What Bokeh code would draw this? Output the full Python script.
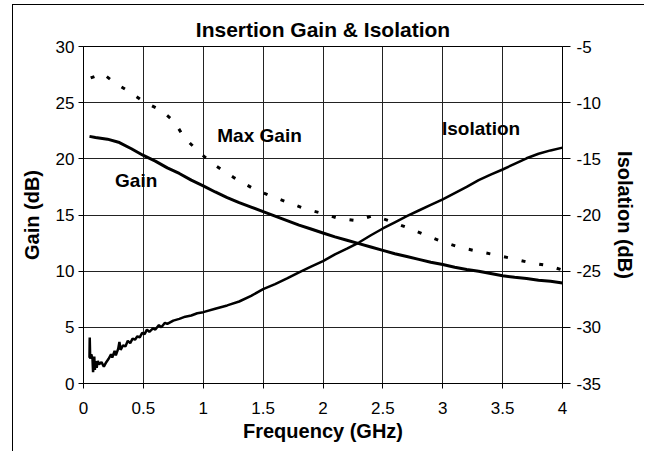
from bokeh.plotting import figure
from bokeh.models import Range1d, LinearAxis, Label, FixedTicker, PrintfTickFormatter
from bokeh.embed import file_html
from bokeh.resources import INLINE

# ---- data ----
gain_f = [0.05, 0.1, 0.2, 0.3, 0.4, 0.5, 0.6, 0.7, 0.8, 0.9, 1.0, 1.1, 1.2, 1.3, 1.4,
          1.5, 1.6, 1.7, 1.8, 1.9, 2.0, 2.1, 2.2, 2.3, 2.4, 2.5, 2.6, 2.7, 2.8, 2.9,
          3.0, 3.1, 3.2, 3.3, 3.4, 3.5, 3.6, 3.7, 3.8, 3.9, 4.0]
gain_db = [22.0, 21.9, 21.75, 21.45, 20.9, 20.3, 19.8, 19.2, 18.7, 18.1, 17.6, 17.05, 16.55,
           16.1, 15.7, 15.3, 14.9, 14.5, 14.1, 13.75, 13.4, 13.05, 12.75, 12.45, 12.15,
           11.85, 11.55, 11.3, 11.05, 10.8, 10.6, 10.35, 10.15, 10.0, 9.8, 9.6, 9.45,
           9.35, 9.2, 9.1, 8.95]

maxgain_f = [0.06, 0.16, 0.27, 0.38, 0.5, 0.65, 0.76, 0.84, 0.98, 1.11, 1.26, 1.41, 1.55,
             1.70, 1.85, 1.99, 2.13, 2.28, 2.42, 2.56, 2.71, 2.86, 3.0, 3.15, 3.30, 3.44,
             3.59, 3.73, 3.88, 4.0]
maxgain_db = [27.2, 27.6, 26.7, 26.0, 25.1, 24.3, 23.3, 21.9, 20.45, 19.35, 18.3, 17.4,
              16.75, 16.15, 15.55, 15.15, 14.7, 14.5, 14.95, 14.45, 13.85, 13.2, 12.6,
              12.1, 11.75, 11.45, 11.1, 10.75, 10.5, 10.1]

iso_f = [0.05, 0.052, 0.056, 0.065, 0.075, 0.08, 0.09, 0.095, 0.10, 0.11, 0.12, 0.13,
         0.15, 0.17, 0.19, 0.21, 0.23, 0.24, 0.26, 0.27, 0.29, 0.30, 0.31, 0.33, 0.35,
         0.37, 0.39, 0.41, 0.43, 0.45, 0.47, 0.49, 0.51, 0.53, 0.55, 0.58, 0.60, 0.63,
         0.65, 0.68, 0.70, 0.75, 0.80, 0.85, 0.90, 0.95, 1.0, 1.1, 1.2, 1.3, 1.4, 1.5,
         1.6, 1.7, 1.8, 1.9, 2.0, 2.1, 2.2, 2.3, 2.4, 2.5, 2.6, 2.7, 2.8, 2.9, 3.0, 3.1,
         3.2, 3.3, 3.4, 3.5, 3.6, 3.7, 3.8, 3.9, 4.0]
iso_db = [-32.7, -30.9, -32.8, -32.4, -32.8, -34.0, -32.6, -33.8, -33.0, -33.6, -33.0,
          -33.3, -33.1, -33.5, -33.1, -32.8, -32.4, -32.7, -32.1, -32.5, -31.9, -31.3,
          -32.0, -31.6, -31.7, -31.2, -31.4, -31.0, -31.1, -30.8, -30.9, -30.5, -30.6,
          -30.2, -30.4, -30.1, -30.2, -29.8, -30.0, -29.6, -29.7, -29.4, -29.25, -29.05,
          -28.95, -28.75, -28.65, -28.35, -28.05, -27.7, -27.2, -26.6, -26.15, -25.65,
          -25.1, -24.6, -24.1, -23.5, -23.0, -22.45, -21.8, -21.2, -20.65, -20.1, -19.6,
          -19.1, -18.6, -18.05, -17.5, -16.9, -16.4, -15.95, -15.45, -14.95, -14.55,
          -14.25, -14.0]

x_ticks = [0, 0.5, 1, 1.5, 2, 2.5, 3, 3.5, 4]
gain_ticks = [0, 5, 10, 15, 20, 25, 30]
iso_ticks = [-35, -30, -25, -20, -15, -10, -5]

FONT = "Liberation Sans"

p = figure(width=632, height=447, output_backend="svg", toolbar_location=None,
           x_range=Range1d(0, 4), y_range=Range1d(0, 30),
           min_border_left=70, min_border_right=83, min_border_top=41,
           min_border_bottom=69, background_fill_color="white",
           border_fill_color="white", outline_line_color="black")
p.styles = {"margin-left": "12px", "margin-top": "4px",
            "border-left": "1px solid black", "border-top": "1px solid black"}

p.title.text = "Insertion Gain & Isolation"
p.title.align = "center"
p.title.offset = 9
p.title.standoff = 12
p.title.text_font = FONT
p.title.text_font_size = "21px"
p.title.text_font_style = "bold"
p.title.text_color = "black"

p.extra_y_ranges = {"iso": Range1d(-35, -5)}

# grid
for g in (p.xgrid, p.ygrid):
    g.grid_line_color = "#222222"
    g.grid_line_width = 1
p.xgrid.ticker = FixedTicker(ticks=x_ticks)
p.ygrid.ticker = FixedTicker(ticks=gain_ticks)

# axes
xa = p.xaxis[0]
xa.ticker = FixedTicker(ticks=x_ticks)
xa.axis_label = "Frequency (GHz)"
ya = p.yaxis[0]
ya.ticker = FixedTicker(ticks=gain_ticks)
ya.axis_label = "Gain (dB)"

ra = LinearAxis(y_range_name="iso", ticker=FixedTicker(ticks=iso_ticks),
                formatter=PrintfTickFormatter(format="%d"),
                axis_label="Isolation (dB)")
p.add_layout(ra, "right")

for ax in (xa, ya, ra):
    ax.axis_line_color = "black"
    ax.major_tick_line_color = "black"
    ax.major_tick_in = 0
    ax.minor_tick_line_color = None
    ax.major_label_text_font = FONT
    ax.major_label_text_font_size = "17px"
    ax.major_label_text_color = "black"
    ax.axis_label_text_font = FONT
    ax.axis_label_text_font_size = "20px"
    ax.axis_label_text_font_style = "bold"
    ax.axis_label_text_color = "black"

xa.major_tick_out = 5
xa.major_label_standoff = 13
xa.axis_label_standoff = 3
ya.major_tick_out = 5
ya.major_label_standoff = 4
ya.axis_label_standoff = 10
ra.major_tick_out = 8
ra.major_label_standoff = 6
ra.axis_label_standoff = 10

# curves
p.line(gain_f, gain_db, line_color="black", line_width=3)
p.line(maxgain_f, maxgain_db, line_color="black", line_width=3, line_dash="4 14")
p.line(iso_f, iso_db, line_color="black", line_width=2.5, y_range_name="iso")

# in-plot labels
for txt, lx, ly in (("Gain", 0.44, 18.1), ("Max Gain", 1.47, 22.1), ("Isolation", 3.32, 22.7)):
    p.add_layout(Label(x=lx, y=ly, text=txt, text_font=FONT, text_font_size="19px",
                       text_font_style="bold", text_color="black",
                       text_align="center", text_baseline="middle"))

open("out.html", "w").write(file_html(p, INLINE))
